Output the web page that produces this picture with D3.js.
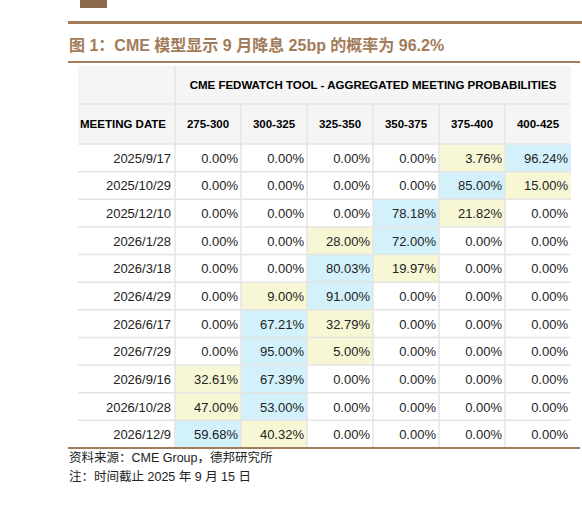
<!DOCTYPE html>
<html><head><meta charset="utf-8">
<script src="https://cdn.jsdelivr.net/npm/d3@7"></script>
<style>body{margin:0;background:#fff}</style>
</head><body><div id="chart"></div>
<script>
// table data
const dates = ['2025/9/17','2025/10/29','2025/12/10','2026/1/28','2026/3/18','2026/4/29','2026/6/17','2026/7/29','2026/9/16','2026/10/28','2026/12/9'];
const ranges = ['275-300','300-325','325-350','350-375','375-400','400-425'];
const probs = [
  [0,0,0,0,3.76,96.24],
  [0,0,0,0,85.00,15.00],
  [0,0,0,78.18,21.82,0],
  [0,0,28.00,72.00,0,0],
  [0,0,80.03,19.97,0,0],
  [0,9.00,91.00,0,0,0],
  [0,67.21,32.79,0,0,0],
  [0,95.00,5.00,0,0,0],
  [32.61,67.39,0,0,0,0],
  [47.00,53.00,0,0,0,0],
  [59.68,40.32,0,0,0,0]
];
const title = '图 1：CME 模型显示 9 月降息 25bp 的概率为 96.2%';
const notes = ['资料来源：CME Group，德邦研究所','注：时间截止 2025 年 9 月 15 日'];

const W = 582, H = 515, brown = '#a27c5a';
const svg = d3.select('#chart').append('svg').attr('width', W).attr('height', H)
  .style('font-family', 'Liberation Sans, Arial, sans-serif');

// logo fragment + rules
svg.append('rect').attr('x', 80).attr('y', 0).attr('width', 27).attr('height', 8).attr('fill', '#8a6a48');
svg.append('rect').attr('x', 68).attr('y', 21).attr('width', 514).attr('height', 3).attr('fill', brown);
svg.append('text').attr('x', 69).attr('y', 51).attr('fill', brown)
  .attr('font-size', 16).attr('font-weight', 'bold')
  .attr('font-family', 'Liberation Sans, Noto Sans CJK SC, sans-serif').text(title);
svg.append('rect').attr('x', 68).attr('y', 61).attr('width', 512).attr('height', 2).attr('fill', brown);

const x0 = 78, c0 = 175, x1 = 571;
const xs = d3.scaleBand().domain(ranges).range([c0, x1]);
const tY = 66, h1 = 38, h2 = 40, rowTop = tY + h1 + h2;
const ys = d3.scaleBand().domain(dates).range([rowTop, 448]);
const grid = '#e4e4e4';

// header background
svg.append('rect').attr('x', x0).attr('y', tY).attr('width', x1 - x0).attr('height', h1 + h2).attr('fill', '#f5f5f5');
svg.append('text').attr('x', (c0 + x1) / 2).attr('y', tY + h1 / 2 + 4).attr('text-anchor', 'middle')
  .attr('font-size', 11.5).attr('font-weight', 'bold').text('CME FEDWATCH TOOL - AGGREGATED MEETING PROBABILITIES');
svg.append('text').attr('x', x0 + 2).attr('y', tY + h1 + h2 / 2 + 4)
  .attr('font-size', 11.5).attr('font-weight', 'bold').text('MEETING DATE');
svg.selectAll('.hd').data(ranges).join('text')
  .attr('x', d => xs(d) + xs.bandwidth() / 2).attr('y', tY + h1 + h2 / 2 + 4)
  .attr('text-anchor', 'middle').attr('font-size', 11.5).attr('font-weight', 'bold').text(d => d);

// cells
const fillOf = row => {
  const nz = row.filter(v => v > 0);
  const mx = d3.max(nz);
  return v => v <= 0 ? '#fff' : (v === mx ? '#d3f1fa' : '#f7f7d5');
};
const rows = svg.selectAll('.row').data(dates).join('g').attr('transform', d => `translate(0,${ys(d)})`);
rows.each(function(d, i) {
  const g = d3.select(this), f = fillOf(probs[i]);
  g.selectAll('rect').data(probs[i]).join('rect')
    .attr('x', (v, j) => xs(ranges[j])).attr('width', xs.bandwidth()).attr('height', ys.bandwidth())
    .attr('fill', v => f(v));
  g.selectAll('text.v').data(probs[i]).join('text').attr('class', 'v')
    .attr('x', (v, j) => xs(ranges[j]) + xs.bandwidth() - 3).attr('y', ys.bandwidth() / 2 + 5)
    .attr('text-anchor', 'end').attr('font-size', 13).attr('fill', '#222').text(v => v.toFixed(2) + '%');
  g.append('text').attr('x', c0 - 4).attr('y', ys.bandwidth() / 2 + 5).attr('text-anchor', 'end')
    .attr('font-size', 13).attr('fill', '#222').text(d);
});

// grid lines
const gl = svg.append('g').attr('stroke', grid).attr('stroke-width', 1.5);
[tY + h1, rowTop, ...dates.slice(1).map(d => ys(d))].forEach(y =>
  gl.append('line').attr('x1', x0).attr('x2', x1).attr('y1', y).attr('y2', y));
gl.append('line').attr('x1', c0).attr('x2', c0).attr('y1', tY).attr('y2', 448);
ranges.slice(1).forEach(r => gl.append('line').attr('x1', xs(r)).attr('x2', xs(r)).attr('y1', tY + h1).attr('y2', 448));

svg.append('rect').attr('x', 68).attr('y', 447).attr('width', 512).attr('height', 2).attr('fill', brown);
svg.selectAll('.note').data(notes).join('text')
  .attr('x', 69).attr('y', (d, i) => 462 + i * 19).attr('font-size', 12.5).attr('fill', '#222')
  .attr('font-family', 'Liberation Sans, Noto Sans CJK SC, sans-serif').text(d => d);
</script></body></html>
